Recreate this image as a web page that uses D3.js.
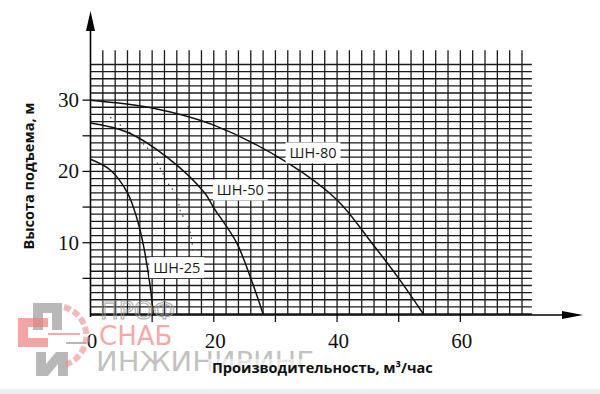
<!DOCTYPE html>
<html>
<head>
<meta charset="utf-8">
<script src="https://cdn.jsdelivr.net/npm/d3@7"></script>
<style>
  body { margin: 0; background: #fff; }
  svg { display: block; }
</style>
</head>
<body>
<svg id="chart"></svg>
<script>
var width = 600,
    height = 394;

// pump curves: flow (m3/h) vs head (m)
var sh25Q = [0, 3.2, 6, 7.5, 8.5, 9.5, 10.2];
var sh25H = [21.7, 20.2, 17, 13.5, 10, 5, 0];
var sh50Q = [0, 6, 12.4, 18.5, 20, 23.7, 26, 28];
var sh50H = [26.8, 25.5, 22, 17, 14.9, 10, 5, 0];
var sh80Q = [0, 10, 20, 32, 40, 45.6, 50, 54];
var sh80H = [30, 28.9, 26.5, 21.2, 16, 10, 5, 0];
// faint dotted trace left in the scan
var dotQ = [3.2, 8, 10, 12.9, 14, 14.5, 16.1, 16.5, 16.5, 21.5];
var dotH = [27.6, 24.4, 22.6, 17.8, 17, 14.6, 11.8, 10.1, 9, 9];

var curveNames = ["ШН-25", "ШН-50", "ШН-80"];
var labelQ = [14.0, 24.3, 36.1];
var labelH = [6.5, 17.4, 22.6];

var xTickLabels = [0, 20, 40, 60];
var yTickLabels = [10, 20, 30];

var x = d3.scaleLinear().domain([0, 70]).range([90.5, 522]);
var y = d3.scaleLinear().domain([0, 35]).range([314, 64.5]);

var svg = d3.select('#chart')
            .attr('width', width)
            .attr('height', height);

// bottom strip
svg.append('rect')
   .attr('x', 0).attr('y', 389).attr('width', width).attr('height', 5)
   .attr('fill', '#eeeeee');

// watermark
var wm = svg.append('g').attr('class', 'watermark');
wm.append('path')
  .attr('d', 'M33,303 H62 V330 H52 V313 H43 V330 H33 Z')
  .attr('fill', '#9a9a9a').attr('opacity', 0.7);
wm.append('path')
  .attr('d', 'M18,318 H48 V327 H28 V338 H48 V347 H18 Z')
  .attr('fill', '#ee7f7f').attr('opacity', 0.7);
wm.append('path')
  .attr('d', 'M36,352 H46 V364 L56,352 H68 V376 H58 V364 L48,376 H36 Z')
  .attr('fill', '#9a9a9a').attr('opacity', 0.7);
wm.append('path')
  .attr('d', 'M64,307 A30,30 0 0 1 64,365')
  .attr('fill', 'none').attr('stroke', '#ee8a8a').attr('stroke-width', 6).attr('opacity', 0.6)
  .attr('stroke-dasharray', '7,3');
wm.append('line')
  .attr('x1', 48).attr('y1', 334).attr('x2', 80).attr('y2', 334)
  .attr('stroke', '#ee8a8a').attr('stroke-width', 2).attr('opacity', 0.7);
wm.append('line')
  .attr('x1', 66).attr('y1', 343).attr('x2', 86).attr('y2', 343)
  .attr('stroke', '#9a9a9a').attr('stroke-width', 2).attr('opacity', 0.7);

// grid
var grid = svg.append('g').attr('class', 'grid')
              .attr('stroke', '#1a1a1a').attr('stroke-width', 1.3);

grid.selectAll('.h')
    .data(d3.range(0, 36, 1))
    .enter()
    .append('line')
    .attr('x1', x(0)).attr('x2', x(71.6))
    .attr('y1', d => y(d)).attr('y2', d => y(d));

grid.selectAll('.v')
    .data(d3.range(2, 71, 2))
    .enter()
    .append('line')
    .attr('x1', d => x(d)).attr('x2', d => x(d))
    .attr('y1', y(0)).attr('y2', y(37));

// ticks
svg.append('g').attr('stroke', '#111').attr('stroke-width', 1.3)
   .selectAll('line')
   .data(d3.range(5, 31, 5))
   .enter()
   .append('line')
   .attr('x1', x(0) - 8).attr('x2', x(0))
   .attr('y1', d => y(d)).attr('y2', d => y(d));

svg.append('g').attr('stroke', '#111').attr('stroke-width', 1.3)
   .selectAll('line')
   .data(d3.range(10, 61, 10))
   .enter()
   .append('line')
   .attr('x1', d => x(d)).attr('x2', d => x(d))
   .attr('y1', y(0)).attr('y2', y(0) + 8);

// axes with arrows
svg.append('line')
   .attr('x1', x(0)).attr('x2', x(0))
   .attr('y1', y(0) + 3).attr('y2', 28)
   .attr('stroke', '#000').attr('stroke-width', 1.6);
svg.append('path')
   .attr('d', 'M' + x(0) + ',11 L' + (x(0) - 4.5) + ',31 L' + (x(0) + 4.5) + ',31 Z')
   .attr('fill', '#000');

svg.append('line')
   .attr('x1', x(0)).attr('x2', 566)
   .attr('y1', y(0) + 1).attr('y2', y(0) + 1)
   .attr('stroke', '#000').attr('stroke-width', 1.6);
svg.append('path')
   .attr('d', 'M583,' + (y(0) + 1) + ' L562,' + (y(0) - 3) + ' L562,' + (y(0) + 5) + ' Z')
   .attr('fill', '#000');

// tick labels
svg.append('g')
   .selectAll('text')
   .data(yTickLabels)
   .enter()
   .append('text')
   .attr('x', 79)
   .attr('y', d => y(d) + 7)
   .attr('text-anchor', 'end')
   .style('font-family', 'Liberation Serif')
   .style('font-size', '21px')
   .attr('fill', '#111')
   .text(d => d);

svg.append('g')
   .selectAll('text')
   .data(xTickLabels)
   .enter()
   .append('text')
   .attr('x', d => x(d) + 1.5)
   .attr('y', 348)
   .attr('text-anchor', 'middle')
   .style('font-family', 'Liberation Serif')
   .style('font-size', '21px')
   .attr('fill', '#111')
   .text(d => d);

// curves
var line = d3.line()
             .x(d => x(d[0]))
             .y(d => y(d[1]))
             .curve(d3.curveCatmullRom.alpha(0.5));

svg.append('path')
   .datum(d3.zip(dotQ, dotH))
   .attr('d', d3.line().x(d => x(d[0])).y(d => y(d[1])))
   .attr('fill', 'none')
   .attr('stroke', '#444')
   .attr('stroke-width', 1.2)
   .attr('stroke-dasharray', '1.5,4.5');

var series = [d3.zip(sh25Q, sh25H), d3.zip(sh50Q, sh50H), d3.zip(sh80Q, sh80H)];
svg.append('g')
   .selectAll('path')
   .data(series)
   .enter()
   .append('path')
   .attr('d', line)
   .attr('fill', 'none')
   .attr('stroke', '#111')
   .attr('stroke-width', 1.5);

// curve labels with white boxes
var labels = svg.append('g')
                .selectAll('g')
                .data(curveNames)
                .enter()
                .append('g');

labels.append('rect').attr('fill', '#fff');
labels.append('text')
      .attr('x', (d, i) => x(labelQ[i]))
      .attr('y', (d, i) => y(labelH[i]))
      .attr('text-anchor', 'middle')
      .attr('dominant-baseline', 'central')
      .style('font-family', 'Open Sans')
      .style('font-size', '14.5px')
      .attr('fill', '#1a1a1a')
      .text(d => d);
labels.each(function() {
  var g = d3.select(this);
  var b = g.select('text').node().getBBox();
  g.select('rect')
   .attr('x', b.x - 4).attr('y', b.y - 1)
   .attr('width', b.width + 8).attr('height', b.height + 2);
});

// watermark text over the grid
wm.raise();
wm.append('text')
  .attr('x', 100).attr('y', 319)
  .style('font-family', 'DejaVu Sans').style('font-size', '25px')
  .attr('fill', 'none').attr('stroke', '#999').attr('stroke-width', 1.2)
  .attr('opacity', 0.75)
  .text('ПРОФ');
wm.append('text')
  .attr('x', 99).attr('y', 345)
  .style('font-family', 'DejaVu Sans').style('font-size', '26px')
  .attr('fill', '#ee7070').attr('opacity', 0.6)
  .text('СНАБ');
wm.append('text')
  .attr('x', 96).attr('y', 371)
  .style('font-family', 'DejaVu Sans').style('font-size', '26px')
  .attr('fill', '#9a9a9a').attr('opacity', 0.6)
  .attr('textLength', 218).attr('lengthAdjust', 'spacingAndGlyphs')
  .text('ИНЖИНИРИНГ');

// axis titles
svg.append('text')
   .attr('transform', 'translate(34,176) rotate(-90)')
   .attr('text-anchor', 'middle')
   .style('font-family', 'Open Sans')
   .style('font-weight', 'bold')
   .style('font-size', '14.5px')
   .attr('fill', '#111')
   .text('Высота подъема, м');

svg.append('rect')
   .attr('x', 208).attr('y', 359).attr('width', 236).attr('height', 19)
   .attr('fill', '#fff').attr('opacity', 0.6);
svg.append('text')
   .attr('x', 212)
   .attr('y', 373)
   .style('font-family', 'Open Sans')
   .style('font-weight', 'bold')
   .style('font-size', '14.5px')
   .attr('fill', '#111')
   .text('Производительность,  м³/час');
</script>
</body>
</html>
